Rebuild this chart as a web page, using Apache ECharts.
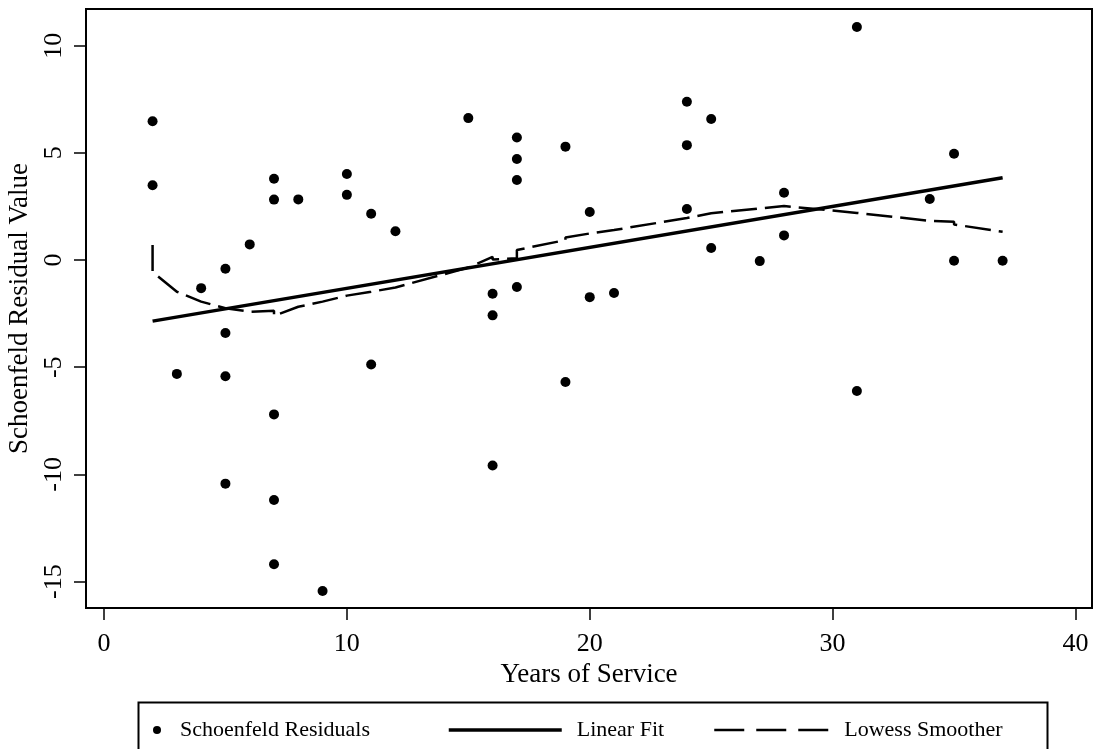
<!DOCTYPE html>
<html>
<head>
<meta charset="utf-8">
<script src="https://cdn.jsdelivr.net/npm/echarts@6/dist/echarts.min.js"></script>
<style>
  html, body { margin: 0; padding: 0; background: #fff; }
  #chart { width: 1094px; height: 749px; }
</style>
</head>
<body>
<div id="chart"></div>
<script>
// ---- data ----
const yearsOfService = [2, 2, 3, 4, 5, 5, 5, 5, 6, 7, 7, 7, 7, 7, 8, 9, 10, 10, 11, 11, 12,
  15, 16, 16, 16, 17, 17, 17, 17, 19, 19, 20, 20, 21, 24, 24, 24, 25, 25, 27, 28, 28,
  31, 31, 34, 35, 35, 37];
const residuals = [6.47, 3.49, -5.31, -1.31, -0.41, -3.40, -5.42, -10.43, 0.73, 3.79, 2.82, -7.20, -11.19, -14.19, 2.83, -15.44, 4.01, 3.04, 2.16, -4.87, 1.34,
  6.62, -1.57, -2.58, -9.58, 5.72, 4.71, 3.73, -1.26, 5.29, -5.69, 2.24, -1.73, -1.54, 7.38, 5.36, 2.38, 6.58, 0.56, -0.05, 3.14, 1.15,
  10.87, -6.11, 2.85, 4.96, -0.03, -0.03];

const linearFitX = [2, 37];
const linearFitY = [-2.85, 3.84];

const lowessX = [2, 2, 3, 4, 5, 6, 7, 7, 8, 9, 10, 11, 12, 15, 16, 16, 17, 17, 19, 19, 20, 21, 24, 25, 27, 28, 28, 31, 34, 35, 35, 37];
const lowessY = [0.70, -0.55, -1.48, -1.94, -2.25, -2.41, -2.36, -2.60, -2.18, -1.94, -1.66, -1.48, -1.28, -0.35, 0.15, 0.02, 0.08, 0.47, 0.93, 1.05, 1.24, 1.40, 1.96, 2.18, 2.41, 2.52, 2.45, 2.20, 1.83, 1.79, 1.66, 1.32];

const xTicks = [0, 10, 20, 30, 40];
const yTicks = [-15, -10, -5, 0, 5, 10];

const seriesNames = ['Schoenfeld Residuals', 'Linear Fit', 'Lowess Smoother'];

// ---- chart ----
const FONT = '"Liberation Serif", "DejaVu Serif", serif';
const chart = echarts.init(document.getElementById('chart'), null, { renderer: 'canvas' });

const zip = (xs, ys) => xs.map((x, i) => [x, ys[i]]);

const legendText = (pad) => ({ fontFamily: FONT, fontSize: 22, color: '#000', padding: [0, 0, 0, pad] });

chart.setOption({
  animation: false,
  backgroundColor: '#fff',
  grid: {
    left: 86, top: 9, right: 2, height: 599,
    show: true, borderColor: '#000', borderWidth: 2,
    outerBoundsMode: 'none', containLabel: false
  },
  xAxis: {
    type: 'value', min: -0.741, max: 40.68,
    axisLine: { show: false, onZero: false },
    splitLine: { show: false },
    axisTick: { show: true, inside: false, length: 12, customValues: xTicks, lineStyle: { color: '#000', width: 1.5 } },
    axisLabel: { customValues: xTicks, margin: 23, fontFamily: FONT, fontSize: 26, color: '#000' },
    name: 'Years of Service', nameLocation: 'middle', nameGap: 44,
    nameTextStyle: { fontFamily: FONT, fontSize: 27, color: '#000' }
  },
  yAxis: {
    type: 'value', min: -16.23, max: 11.71,
    axisLine: { show: false, onZero: false },
    splitLine: { show: false },
    axisTick: { show: true, inside: false, length: 12, customValues: yTicks, lineStyle: { color: '#000', width: 1.5 } },
    axisLabel: { customValues: yTicks, rotate: 90, margin: 19, fontFamily: FONT, fontSize: 26, color: '#000' },
    name: 'Schoenfeld Residual Value', nameLocation: 'middle', nameGap: 46,
    nameTextStyle: { fontFamily: FONT, fontSize: 27, color: '#000' }
  },
  legend: [
    { data: [seriesNames[0]], left: 148, top: 714, itemWidth: 8, itemHeight: 8, icon: 'circle',
      itemStyle: { color: '#000', opacity: 1 },
      textStyle: legendText(14), selectedMode: false },
    { data: [seriesNames[1]], left: 442, top: 714, itemWidth: 113, itemHeight: 14,
      itemStyle: { opacity: 0 }, lineStyle: { width: 3.5 },
      textStyle: legendText(10), selectedMode: false },
    { data: [seriesNames[2]], left: 708, top: 714, itemWidth: 115, itemHeight: 14,
      itemStyle: { opacity: 0 }, lineStyle: { width: 2.5, type: [30, 12] },
      textStyle: legendText(10), selectedMode: false }
  ],
  graphic: [{
    type: 'rect', left: 136, top: 700, z: 0,
    shape: { width: 909, height: 70 },
    style: { fill: 'none', stroke: '#000', lineWidth: 2 }
  }],
  series: [
    {
      name: seriesNames[0], type: 'scatter', symbol: 'circle', symbolSize: 10,
      itemStyle: { color: '#000', opacity: 1 }, z: 3,
      data: zip(yearsOfService, residuals)
    },
    {
      name: seriesNames[1], type: 'line', symbol: 'none', showSymbol: false,
      lineStyle: { color: '#000', width: 3.5, type: 'solid' }, itemStyle: { color: '#000' },
      data: zip(linearFitX, linearFitY)
    },
    {
      name: seriesNames[2], type: 'line', symbol: 'none', showSymbol: false,
      lineStyle: { color: '#000', width: 2.5, type: [26, 8] }, itemStyle: { color: '#000' },
      data: zip(lowessX, lowessY)
    }
  ]
});
</script>
</body>
</html>
